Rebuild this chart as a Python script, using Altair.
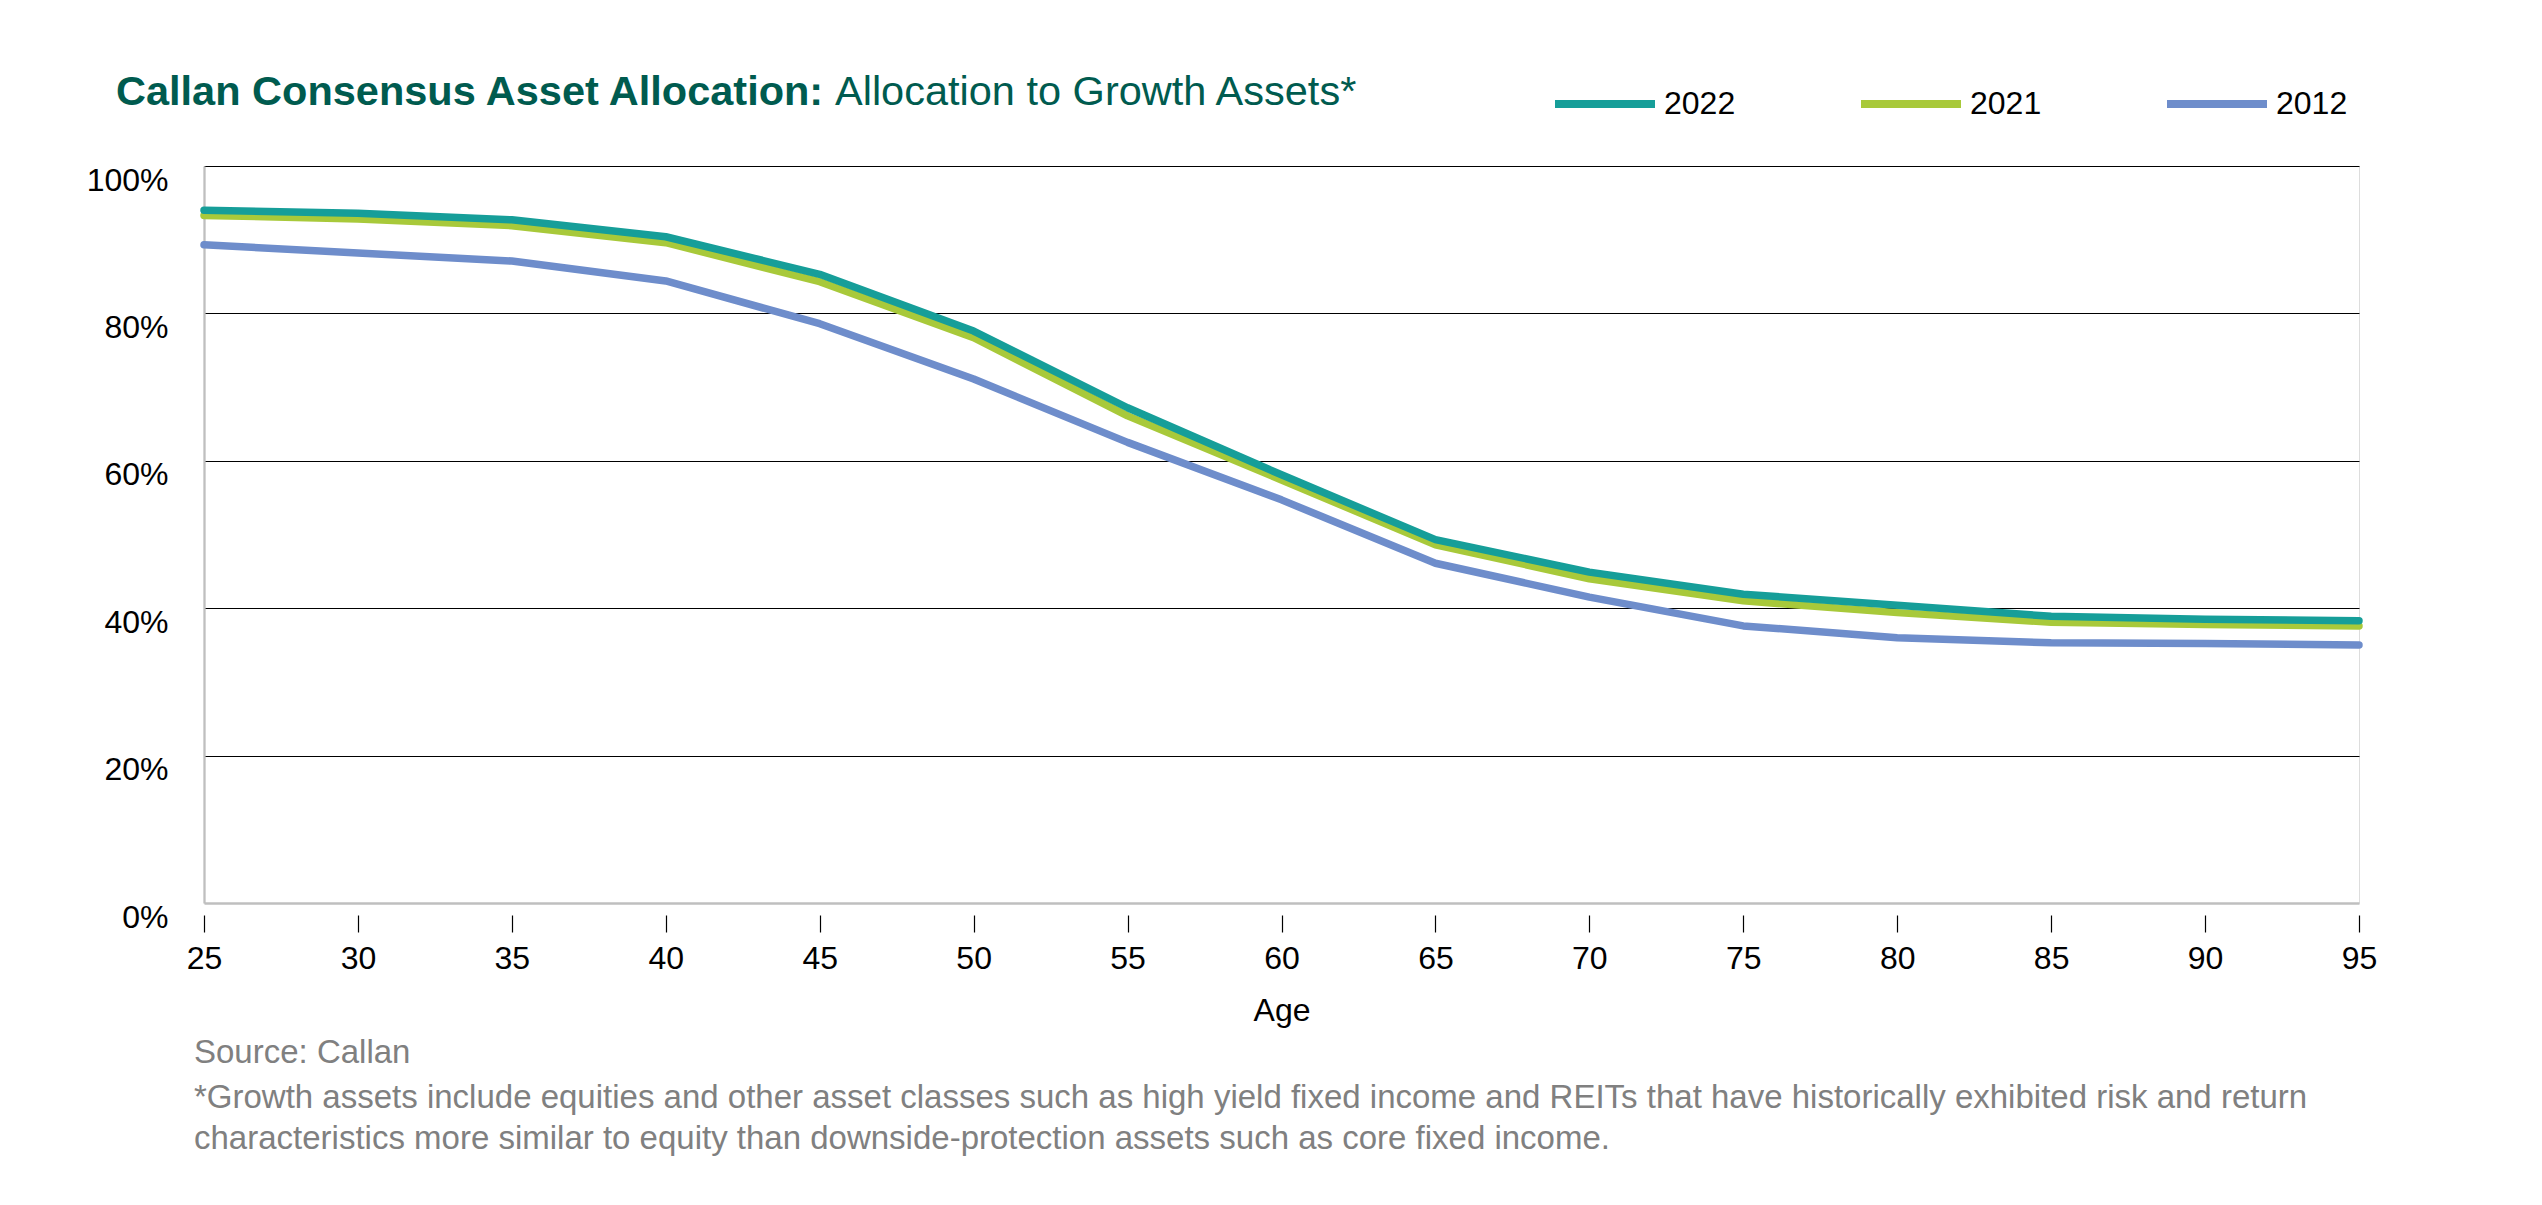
import altair as alt
import pandas as pd

# ---- data ----
ages = [25, 30, 35, 40, 45, 50, 55, 60, 65, 70, 75, 80, 85, 90, 95]
alloc_2022 = [94.0, 93.6, 92.7, 90.4, 85.3, 77.6, 67.2, 58.1, 49.3, 44.9, 41.9, 40.4, 38.9, 38.5, 38.3]
alloc_2021 = [93.3, 92.8, 91.9, 89.6, 84.3, 76.7, 66.1, 57.4, 48.6, 44.0, 41.0, 39.4, 38.1, 37.8, 37.6]
alloc_2012 = [89.3, 88.2, 87.1, 84.4, 78.6, 71.1, 62.5, 54.7, 46.1, 41.5, 37.6, 36.0, 35.3, 35.2, 35.0]
series_names = ["2022", "2021", "2012"]
series_colors = ["#169E99", "#A8C93A", "#6E8DCB"]
y_ticks = [0, 20, 40, 60, 80, 100]

title_bold = "Callan Consensus Asset Allocation:"
title_rest = "Allocation to Growth Assets*"
source_note = "Source: Callan"
footnote_lines = [
    "*Growth assets include equities and other asset classes such as high yield fixed income and REITs that have historically exhibited risk and return",
    "characteristics more similar to equity than downside-protection assets such as core fixed income.",
]

rows = []
for name, vals in zip(series_names, [alloc_2022, alloc_2021, alloc_2012]):
    for a, v in zip(ages, vals):
        rows.append({"Age": a, "Value": v, "Series": name})
df = pd.DataFrame(rows)

FONT = "Liberation Sans"
TITLE_COLOR = "#005B4F"

x_enc = alt.X(
    "Age:Q",
    scale=alt.Scale(domain=[25, 95], nice=False, zero=False),
    axis=alt.Axis(
        values=ages, title="Age", offset=12, domain=False, grid=False,
        tickSize=17, tickColor="black", tickWidth=1.2,
        labelFontSize=32, labelPadding=11, labelColor="black", labelFont=FONT,
        labelFlush=False,
        titleFontSize=32, titleFontWeight="normal", titleColor="black",
        titleFont=FONT, titlePadding=21,
    ),
)
y_enc = alt.Y(
    "Value:Q",
    scale=alt.Scale(domain=[0, 100], nice=False),
    axis=alt.Axis(
        values=y_ticks, title=None, ticks=False,
        labelExpr="datum.value + '%'", labelFontSize=32, labelPadding=36,
        labelOffset=14, labelColor="black", labelFont=FONT,
        domainColor="#BFBFBF", domainWidth=2.3,
        grid=True,
        gridColor={"condition": {"test": "datum.value === 0", "value": "#BFBFBF"}, "value": "#000000"},
        gridWidth={"condition": {"test": "datum.value === 0", "value": 2.5}, "value": 1.2},
    ),
)
color_enc = alt.Color(
    "Series:N",
    sort=series_names,
    scale=alt.Scale(domain=series_names, range=series_colors),
    legend=alt.Legend(
        title=None, orient="none", legendX=1347, legendY=-116,
        direction="horizontal", symbolType="stroke", symbolSize=10000,
        symbolStrokeWidth=8, labelFontSize=32, labelOffset=5,
        labelFont=FONT, labelColor="black", columnPadding=109, padding=0,
    ),
)

base = alt.Chart(df)
layers = []
for name in ["2012", "2021", "2022"]:
    layers.append(
        base.transform_filter(alt.datum.Series == name)
        .mark_line(strokeWidth=7.5, strokeCap="round", strokeJoin="round")
        .encode(x=x_enc, y=y_enc, color=color_enc)
    )

def text_layer(text, x, y, size, color, weight="normal", line_height=None):
    kw = dict(align="left", baseline="alphabetic", fontSize=size, font=FONT,
              color=color, fontWeight=weight)
    if line_height:
        kw["lineHeight"] = line_height
    return (
        alt.Chart(pd.DataFrame({"k": [0]}))
        .mark_text(text=text, **kw)
        .encode(x=alt.value(x), y=alt.value(y))
    )

t1 = text_layer(title_bold, -88, -61, 41.5, TITLE_COLOR, weight="bold")
t2 = text_layer(title_rest, 631, -61, 41.5, TITLE_COLOR)
s1 = text_layer(source_note, -10, 897, 33, "#808080")
f1 = text_layer(footnote_lines, -10, 942, 33, "#808080", line_height=41)

chart = (
    alt.layer(*layers, t1, t2, s1, f1)
    .properties(
        width=2155, height=737,
        padding={"left": 196, "top": 158, "right": 150, "bottom": 270},
        autosize=alt.AutoSizeParams(type="none"),
    )
    .configure_view(stroke=None)
    .configure(background="white")
)

chart.save("out.html", embed_options={"renderer": "svg", "actions": False})
